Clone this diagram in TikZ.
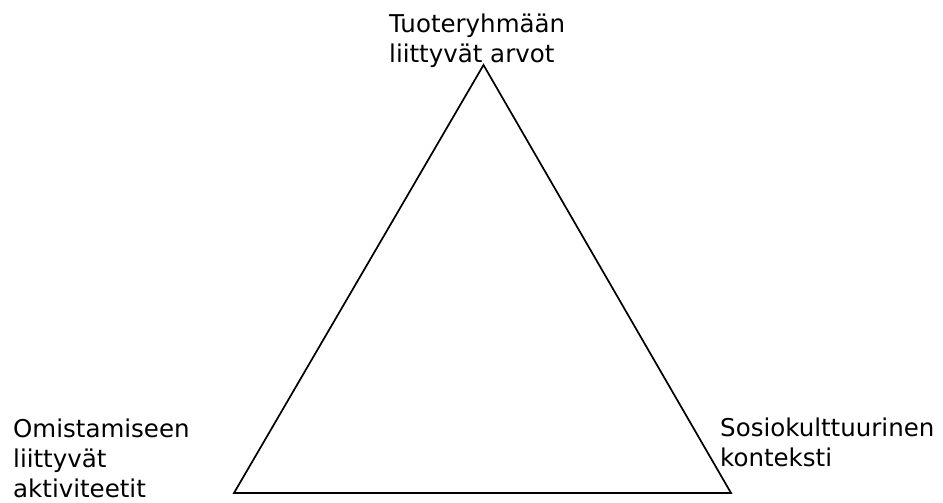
\documentclass[tikz,border=0pt]{standalone}
\usepackage{fontspec}
\setmainfont{DejaVu Sans}
\begin{document}
\begin{tikzpicture}[x=1pt,y=1pt,
  lbl/.style={inner sep=0pt, anchor=base west, align=left,
    font=\fontsize{24.5}{30}\selectfont},
  tri/.style={line width=1.7pt, line join=miter}]
\useasboundingbox (0,0) rectangle (943,503);
\coordinate (apex) at (483.5,438);
\coordinate (bl) at (234,10);
\coordinate (br) at (731,10);
\draw[tri] (apex) -- (br) -- (bl) -- cycle;
\node[lbl] (top) at (389,440) {Tuoteryhmään\\liittyvät arvot};
\node[lbl] (left) at (13,5) {Omistamiseen\\liittyvät\\aktiviteetit};
\node[lbl] (right) at (720,36) {Sosiokulttuurinen\\konteksti};
\end{tikzpicture}
\end{document}
